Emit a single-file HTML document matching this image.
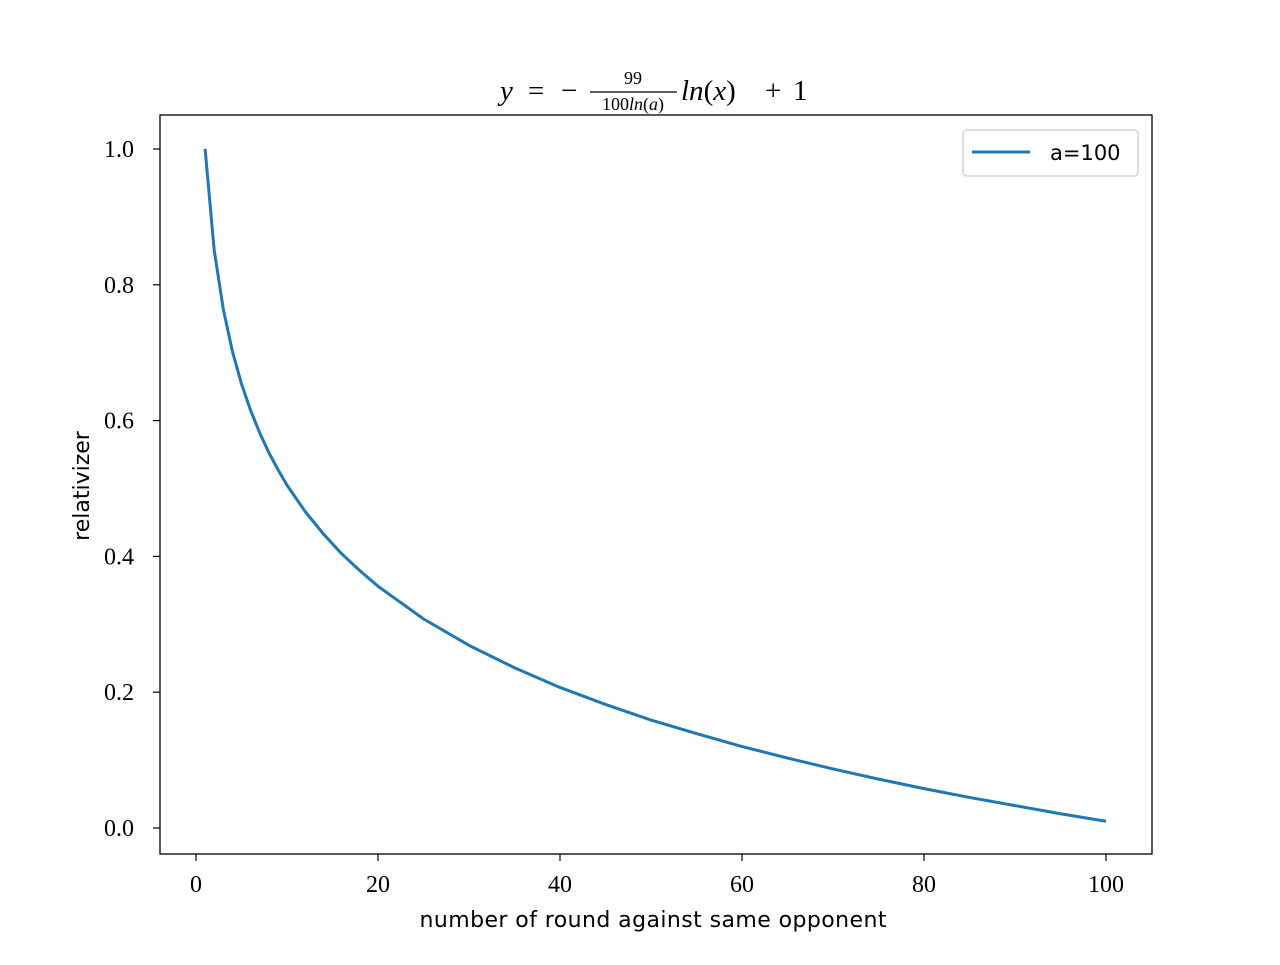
<!DOCTYPE html>
<html><head><meta charset="utf-8"><style>
body{margin:0;background:#fff;}
svg text{font-family:"Liberation Serif",serif;}
.sans{font-family:"DejaVu Sans","Liberation Sans",sans-serif;}
</style></head><body>
<svg id="chart" width="1280" height="960" xmlns="http://www.w3.org/2000/svg">
<rect width="1280" height="960" fill="#fff"/>
<g id="title" font-size="29">
<text x="500" y="100" font-style="italic">y</text>
<text x="528" y="100">=</text>
<text x="561" y="100">−</text>
<text x="633" y="84" font-size="18" text-anchor="middle">99</text>
<line x1="590" y1="92" x2="677" y2="92" stroke="#000" stroke-width="1.3"/>
<text x="633" y="110" font-size="18" text-anchor="middle">100<tspan font-style="italic">ln</tspan>(<tspan font-style="italic">a</tspan>)</text>
<text x="681" y="100"><tspan font-style="italic">ln</tspan>(<tspan font-style="italic">x</tspan>)</text>
<text x="765" y="100">+</text>
<text x="793" y="100">1</text>
</g>
<g id="xticks"></g>
<g id="yticks"></g>
<polyline id="line" fill="none" stroke="#1f77b4" stroke-width="3" stroke-linejoin="round"/>
<rect x="160" y="115" width="992" height="739" fill="none" stroke="#000" stroke-width="1.3"/>
<text class="sans" x="653" y="927" font-size="22" text-anchor="middle" textLength="467">number of round against same opponent</text>
<text class="sans" x="0" y="0" font-size="22" text-anchor="middle" transform="translate(89,486) rotate(-90)">relativizer</text>
<g>
<rect x="963" y="130" width="175" height="46" rx="4" fill="#fff" stroke="#ccc" stroke-width="1.3"/>
<line x1="972" y1="152" x2="1030" y2="152" stroke="#1f77b4" stroke-width="3"/>
<text class="sans" x="1050" y="160" font-size="21">a=100</text>
</g>
</svg>
<script>
const xValues=[1,2,3,4,5,6,7,8,9,10,12,14,16,18,20,25,30,35,40,45,50,55,60,65,70,75,80,85,90,95,100];
const yValues=[1.000,0.851,0.764,0.702,0.654,0.615,0.582,0.553,0.528,0.505,0.466,0.433,0.404,0.379,0.356,0.308,0.269,0.236,0.207,0.182,0.159,0.139,0.120,0.103,0.087,0.072,0.058,0.045,0.033,0.021,0.010];
const xTickLabels=[0,20,40,60,80,100];
const yTickLabels=[0.0,0.2,0.4,0.6,0.8,1.0];
const sx=v=>196+v*9.1;
const sy=v=>828-v*679;
const NS="http://www.w3.org/2000/svg";
const line=document.getElementById('line');
line.setAttribute('points',xValues.map((x,i)=>sx(x)+','+sy(yValues[i])).join(' '));
const xg=document.getElementById('xticks');
xTickLabels.forEach(t=>{
 const l=document.createElementNS(NS,'line');
 
 
 l.setAttribute('x1',sx(t));l.setAttribute('x2',sx(t));l.setAttribute('y1',854);l.setAttribute('y2',861);l.setAttribute('stroke','#000');l.setAttribute('stroke-width','1.2');
 xg.appendChild(l);
 const tx=document.createElementNS(NS,'text');
 
 
 tx.setAttribute('x',sx(t));tx.setAttribute('y',892);tx.setAttribute('font-size','24');tx.setAttribute('text-anchor','middle');
 tx.textContent=t;xg.appendChild(tx);
});
const yg=document.getElementById('yticks');
yTickLabels.forEach(t=>{
 const l=document.createElementNS(NS,'line');
 
 
 l.setAttribute('x1',153);l.setAttribute('x2',160);l.setAttribute('y1',sy(t));l.setAttribute('y2',sy(t));l.setAttribute('stroke','#000');l.setAttribute('stroke-width','1.2');
 yg.appendChild(l);
 const tx=document.createElementNS(NS,'text');
 
 
 tx.setAttribute('x',134);tx.setAttribute('y',sy(t)+8);tx.setAttribute('font-size','24');tx.setAttribute('text-anchor','end');
 tx.textContent=t.toFixed(1);yg.appendChild(tx);
});
</script>
</body></html>
